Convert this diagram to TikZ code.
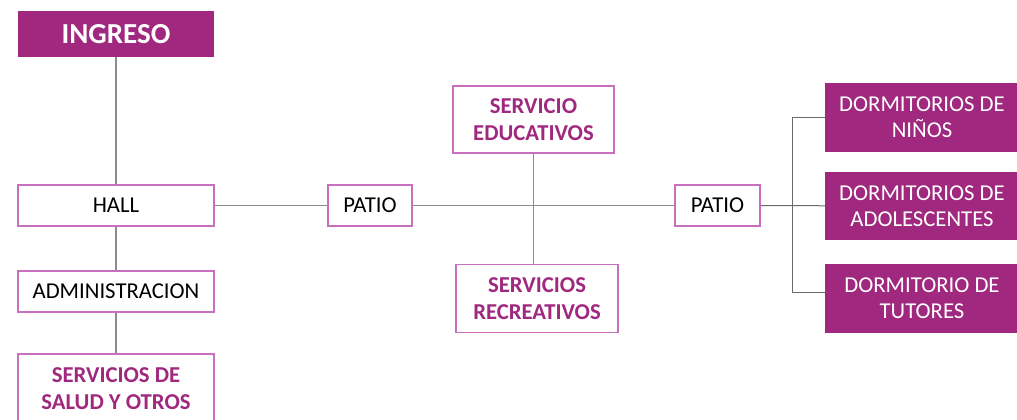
\documentclass[tikz,border=0pt]{standalone}
\usepackage{fontspec}
\setmainfont{Carlito}
\definecolor{paars}{HTML}{A0287E}
\definecolor{rand}{HTML}{C870BE}
\definecolor{lijn}{HTML}{8C8C8C}
\definecolor{tak}{HTML}{6A6A6A}
\begin{document}
\begin{tikzpicture}[x=1pt, y=-1pt,
	vol/.style={fill=paars, text=white, inner sep=0pt, align=center, font=\fontsize{22.7}{26}\selectfont},
	open/.style={draw=rand, line width=1.2pt, fill=white, inner sep=0pt, align=center, font=\fontsize{22.7}{27}\selectfont},
	accent/.style={open, text=paars, font=\fontsize{22.7}{27}\selectfont\bfseries},
	verbinding/.style={draw=lijn, line width=1.5pt},
	vertakking/.style={draw=tak, line width=1pt}]
	% kader
	\useasboundingbox (0,0) rectangle (1017,420);
	\clip (0,0) rectangle (1017,420);
	
	% linkerkolom
	\node[vol, minimum width=196pt, minimum height=46pt, font=\fontsize{29}{31}\selectfont\bfseries] (ingreso) at (116,34) {INGRESO};
	\node[open, minimum width=196pt, minimum height=41pt] (hall) at (116,205.5) {HALL};
	\node[open, minimum width=196pt, minimum height=41pt] (admin) at (116,291.5) {ADMINISTRACION};
	\node[accent, minimum width=196pt, minimum height=70pt] (salud) at (116,389) {SERVICIOS DE\\SALUD Y OTROS};
	
	% midden
	\node[open, minimum width=84pt, minimum height=41pt] (patioA) at (370,205.5) {PATIO};
	\node[accent, minimum width=161pt, minimum height=67pt] (educ) at (533.5,119.5) {SERVICIO\\EDUCATIVOS};
	\node[accent, minimum width=162pt, minimum height=68pt] (recr) at (537,298.5) {SERVICIOS\\RECREATIVOS};
	\node[open, minimum width=85pt, minimum height=41pt] (patioB) at (717.5,205.5) {PATIO};
	
	% dormitorios
	\node[vol, minimum width=194pt, minimum height=69pt] (ninos) at (922,117.5) {DORMITORIOS DE\\NIÑOS};
	\node[vol, minimum width=194pt, minimum height=68pt] (adol) at (922,206) {DORMITORIOS DE\\ADOLESCENTES};
	\node[vol, minimum width=194pt, minimum height=69pt] (tutores) at (922,298.5) {DORMITORIO DE\\TUTORES};
	\coordinate (tut) at ([yshift=6.5pt]tutores.west);
	
	% lijnen
	\draw[verbinding] (ingreso) -- (hall);
	\draw[verbinding] (hall) -- (admin);
	\draw[verbinding] (admin) -- (salud);
	\draw[verbinding] (hall) -- (patioA);
	\draw[verbinding] (patioA) -- (patioB);
	\draw[verbinding] (educ.south) -- (educ.south |- recr.north);
	\draw[vertakking] (patioB) -- (adol);
	\draw[vertakking] (ninos.west) -- ++(-32,0) |- (tut);
\end{tikzpicture}
\end{document}
